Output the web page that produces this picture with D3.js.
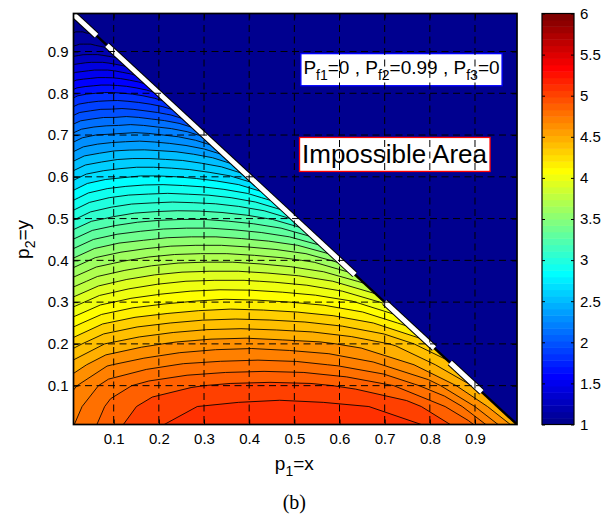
<!DOCTYPE html>
<html>
<head>
<meta charset="utf-8">
<script src="https://cdnjs.cloudflare.com/ajax/libs/d3/7.8.5/d3.min.js"></script>
<style>
body{margin:0;background:#fff;}
text{font-family:"Liberation Sans",Arial,sans-serif;fill:#000;}
</style>
</head>
<body>
<svg width="607" height="517"></svg>
<script>
// field: one row per y (step 0.05),
// each row sampled at u = x/(1-y) = 0, 0.1 ... 1 (left edge -> diagonal)
var yRows = d3.range(0, 21).map(function(j){return j*0.05;});
var uCols = d3.range(0, 11).map(function(i){return i*0.1;});
var zRows = [
  [4.78,4.98,5.10,5.15,5.17,5.18,5.17,5.14,5.10,4.92,4.55],
  [4.74,4.93,5.05,5.10,5.12,5.13,5.12,5.10,5.04,4.86,4.52],
  [4.66,4.85,4.94,4.99,5.02,5.03,5.02,4.98,4.90,4.74,4.48],
  [4.52,4.69,4.76,4.81,4.83,4.84,4.83,4.79,4.72,4.60,4.42],
  [4.34,4.50,4.57,4.62,4.65,4.66,4.64,4.62,4.57,4.49,4.33],
  [4.14,4.29,4.36,4.40,4.43,4.44,4.43,4.41,4.37,4.30,4.16],
  [3.93,4.07,4.14,4.18,4.21,4.23,4.22,4.20,4.17,4.11,3.98],
  [3.72,3.85,3.92,3.97,4.00,4.01,4.01,3.99,3.96,3.90,3.78],
  [3.50,3.63,3.69,3.74,3.77,3.78,3.78,3.76,3.73,3.68,3.56],
  [3.28,3.40,3.46,3.49,3.52,3.53,3.53,3.51,3.48,3.43,3.32],
  [3.06,3.17,3.22,3.26,3.28,3.29,3.29,3.27,3.24,3.19,3.08],
  [2.85,2.95,3.00,3.03,3.04,3.05,3.04,3.03,3.00,2.95,2.85],
  [2.64,2.73,2.77,2.79,2.81,2.81,2.80,2.78,2.75,2.71,2.62],
  [2.42,2.50,2.53,2.56,2.57,2.57,2.56,2.55,2.52,2.48,2.40],
  [2.20,2.27,2.30,2.31,2.32,2.33,2.32,2.30,2.28,2.24,2.17],
  [1.96,2.02,2.04,2.06,2.06,2.07,2.06,2.04,2.02,1.99,1.93],
  [1.72,1.77,1.79,1.80,1.81,1.81,1.80,1.79,1.77,1.74,1.69],
  [1.46,1.50,1.51,1.52,1.53,1.53,1.53,1.52,1.50,1.48,1.44],
  [1.22,1.24,1.25,1.26,1.26,1.26,1.26,1.25,1.24,1.23,1.21],
  [1.07,1.08,1.08,1.09,1.09,1.09,1.09,1.08,1.08,1.08,1.07],
  [1.00,1.00,1.00,1.00,1.00,1.00,1.00,1.00,1.00,1.00,1.00]
];
var levels = d3.range(10, 60).map(function(d){return d/10;});
var xTicks = [0.1,0.2,0.3,0.4,0.5,0.6,0.7,0.8,0.9];
var yTicks = [0.1,0.2,0.3,0.4,0.5,0.6,0.7,0.8,0.9];
var cbTicks = [1,1.5,2,2.5,3,3.5,4,4.5,5,5.5,6];
var cRange = [1,6];
// pieces of the white border along x+y=1 (given by x)
var whiteSegs = [[0.012,0.062],[0.085,0.634],[0.70,0.81],[0.845,0.915]];

var svg = d3.select('svg');
var fontSans = '"Liberation Sans",Arial,sans-serif';

var xScale = d3.scaleLinear().domain([0.011,0.993]).range([73.5,517]);
var yScale = d3.scaleLinear().domain([0.007,0.991]).range([424.5,13.5]);
var cbScale = d3.scaleLinear().domain(cRange).range([424.5,13.5]);

// matlab jet(64)
var ramp = d3.range(1,17).map(function(i){return i/16;})
  .concat(d3.range(15).map(function(){return 1;}), d3.range(16,0,-1).map(function(i){return i/16;}));
function at(p){ return (p>=1 && p<=47) ? ramp[p-1] : 0; }
var jetMap = d3.range(1,65).map(function(k){
  return d3.rgb(at(k-24)*255, at(k-8)*255, at(k+8)*255).toString();
});
function colorOf(v){
  var k = Math.floor((v-cRange[0])/(cRange[1]-cRange[0])*64 + 1e-9);
  return jetMap[Math.max(0, Math.min(63, k))];
}

var x0 = xScale.range()[0], x1 = xScale.range()[1];
var y0 = yScale.range()[1], y1 = yScale.range()[0];

var defs = svg.append('defs');
defs.append('clipPath').attr('id','plotclip').append('rect')
  .attr('x',x0).attr('y',y0).attr('width',x1-x0).attr('height',y1-y0);
defs.append('clipPath').attr('id','triclip').append('path')
  .attr('d', d3.line()([[xScale(0),yScale(0)],[xScale(1),yScale(0)],[xScale(0),yScale(1)]]) + 'Z');

// impossible area background
svg.append('rect').attr('x',x0).attr('y',y0).attr('width',x1-x0).attr('height',y1-y0)
  .attr('fill', jetMap[0]);

// filled contours
var values = [];
zRows.forEach(function(r){ r.forEach(function(v){ values.push(v); }); });
var contours = d3.contours().size([uCols.length, yRows.length]).thresholds(levels)(values);
var du = uCols[1]-uCols[0], dy = yRows[1]-yRows[0];
var proj = d3.geoTransform({point: function(cx, cy){
  var u = uCols[0] + (cx-0.5)*du, yy = yRows[0] + (cy-0.5)*dy;
  this.stream.point(xScale(u*(1-yy)), yScale(yy));
}});
var path = d3.geoPath(proj);

var plotLand = svg.append('g').attr('clip-path','url(#plotclip)')
  .append('g').attr('clip-path','url(#triclip)');
plotLand.selectAll('path.band').data(contours).enter().append('path')
  .attr('class','band')
  .attr('d', path)
  .attr('fill', function(d){return colorOf(d.value);})
  .attr('stroke', function(d){return colorOf(d.value);})
  .attr('stroke-width', 0.4);
plotLand.selectAll('path.cline').data(contours.slice(1)).enter().append('path')
  .attr('class','cline')
  .attr('d', path)
  .attr('fill','none')
  .attr('stroke','#000')
  .attr('stroke-width',0.85);

// border of the possible region
var border = svg.append('g').attr('clip-path','url(#plotclip)');
border.append('line')
  .attr('x1', xScale(0)).attr('y1', yScale(1))
  .attr('x2', xScale(1)).attr('y2', yScale(0))
  .attr('stroke','#000').attr('stroke-width',2.4);
border.selectAll('line.wo').data(whiteSegs).enter().append('line')
  .attr('class','wo')
  .attr('x1', function(d){return xScale(d[0]);}).attr('y1', function(d){return yScale(1-d[0]);})
  .attr('x2', function(d){return xScale(d[1]);}).attr('y2', function(d){return yScale(1-d[1]);})
  .attr('stroke','#000').attr('stroke-width',7);
border.selectAll('line.wi').data(whiteSegs).enter().append('line')
  .attr('class','wi')
  .attr('x1', function(d){return xScale(d[0]);}).attr('y1', function(d){return yScale(1-d[0]);})
  .attr('x2', function(d){return xScale(d[1]);}).attr('y2', function(d){return yScale(1-d[1]);})
  .attr('stroke','#fff').attr('stroke-width',5);

// text with subscripts
function subText(g, parts, size, subSize){
  var t = g.append('text').attr('font-size', size);
  var shift = 0;
  parts.forEach(function(p){
    var ts = t.append('tspan').text(p.s);
    if (p.sub) {
      ts.attr('font-size', subSize).attr('dy', size*0.32 - shift);
      shift = size*0.32;
    } else {
      if (shift) ts.attr('dy', -shift);
      shift = 0;
    }
  });
  return t;
}
function boxed(xv, yv, parts, size, subSize, edge, padX, padY){
  var g = svg.append('g').attr('transform','translate('+xScale(xv)+','+yScale(yv)+')');
  var r = g.append('rect').attr('fill','#fff').attr('stroke',edge).attr('stroke-width',1.3);
  var t = subText(g, parts, size, subSize);
  var bb = t.node().getBBox();
  r.attr('x', bb.x-padX).attr('y', bb.y-padY).attr('width', bb.width+2*padX).attr('height', bb.height+2*padY);
}
boxed(0.52, 0.847, [{s:'P'},{s:'f1',sub:true},{s:'=0 , P'},{s:'f2',sub:true},{s:'=0.99 , P'},{s:'f3',sub:true},{s:'=0'}],
  19, 14, '#0000ff', 2.5, 3);
boxed(0.517, 0.632, [{s:'Impossible Area'}], 26, 26, '#ff0000', 2.5, 2);

// dashed grid on top
var grid = svg.append('g');
grid.selectAll('line.gx').data(xTicks).enter().append('line')
  .attr('x1', function(d){return xScale(d);}).attr('x2', function(d){return xScale(d);})
  .attr('y1', y0).attr('y2', y1)
  .attr('stroke','#000').attr('stroke-width',1).attr('stroke-dasharray','7,4.5');
grid.selectAll('line.gy').data(yTicks).enter().append('line')
  .attr('y1', function(d){return yScale(d);}).attr('y2', function(d){return yScale(d);})
  .attr('x1', x0).attr('x2', x1)
  .attr('stroke','#000').attr('stroke-width',1).attr('stroke-dasharray','7,4.5');

// axes
var xAxis = d3.axisBottom(xScale).tickValues(xTicks).tickSizeInner(-5).tickSizeOuter(0).tickPadding(9);
var gx = svg.append('g').attr('transform','translate(0,'+y1+')').call(xAxis);
var yAxis = d3.axisLeft(yScale).tickValues(yTicks).tickSizeInner(-5).tickSizeOuter(0).tickPadding(5);
var gy = svg.append('g').attr('transform','translate('+x0+',0)').call(yAxis);
svg.append('g').attr('transform','translate(0,'+y0+')')
  .call(d3.axisTop(xScale).tickValues(xTicks).tickSizeInner(-5).tickSizeOuter(0).tickFormat(''));
svg.append('g').attr('transform','translate('+x1+',0)')
  .call(d3.axisRight(yScale).tickValues(yTicks).tickSizeInner(-5).tickSizeOuter(0).tickFormat(''));
svg.selectAll('.domain').remove();
svg.selectAll('.tick line').attr('stroke','#000');
gx.selectAll('text').attr('font-size',15).attr('font-family',fontSans);
gy.selectAll('text').attr('font-size',15).attr('font-family',fontSans);
svg.append('rect').attr('x',x0).attr('y',y0).attr('width',x1-x0).attr('height',y1-y0)
  .attr('fill','none').attr('stroke','#000').attr('stroke-width',1.7);

// axis labels
var xl = svg.append('text').attr('x', xScale(0.5)).attr('y', 470).attr('text-anchor','middle').attr('font-size',19);
xl.append('tspan').text('p');
xl.append('tspan').attr('font-size',14).attr('dy',6).text('1');
xl.append('tspan').attr('dy',-6).text('=x');
var yl = svg.append('text').attr('transform','translate(29,'+yScale(0.45)+') rotate(-90)')
  .attr('text-anchor','middle').attr('font-size',19);
yl.append('tspan').text('p');
yl.append('tspan').attr('font-size',14).attr('dy',6).text('2');
yl.append('tspan').attr('dy',-6).text('=y');
svg.append('text').attr('x', xScale(0.5)).attr('y', 509).attr('text-anchor','middle')
  .attr('font-size',20).style('font-family','"Liberation Serif","Times New Roman",serif').text('(b)');

// colorbar
var cbX0 = 542, cbX1 = 574;
var cStep = (cRange[1]-cRange[0])/64;
var cbSteps = d3.range(64).map(function(k){return cRange[0] + k*cStep;});
var cb = svg.append('g');
cb.selectAll('rect.cb').data(cbSteps).enter().append('rect')
  .attr('class','cb')
  .attr('x', cbX0).attr('width', cbX1-cbX0)
  .attr('y', function(d){return cbScale(d + cStep);})
  .attr('height', function(d){return cbScale(d) - cbScale(d + cStep) + 0.5;})
  .attr('fill', function(d, i){return jetMap[i];});
var cbAxis = d3.axisRight(cbScale).tickValues(cbTicks).tickSizeInner(-3).tickSizeOuter(0).tickPadding(6)
  .tickFormat(d3.format('~g'));
var gcb = cb.append('g').attr('transform','translate('+cbX1+',0)').call(cbAxis);
cb.append('g').attr('transform','translate('+cbX0+',0)')
  .call(d3.axisLeft(cbScale).tickValues(cbTicks).tickSizeInner(-3).tickSizeOuter(0).tickFormat(''));
cb.selectAll('.domain').remove();
cb.selectAll('.tick line').attr('stroke','#000');
gcb.selectAll('text').attr('font-size',15).attr('font-family',fontSans);
cb.append('rect').attr('x',cbX0).attr('y',cbScale(cRange[1])).attr('width',cbX1-cbX0)
  .attr('height', cbScale(cRange[0])-cbScale(cRange[1]))
  .attr('fill','none').attr('stroke','#000').attr('stroke-width',1.2);
</script>
</body>
</html>
